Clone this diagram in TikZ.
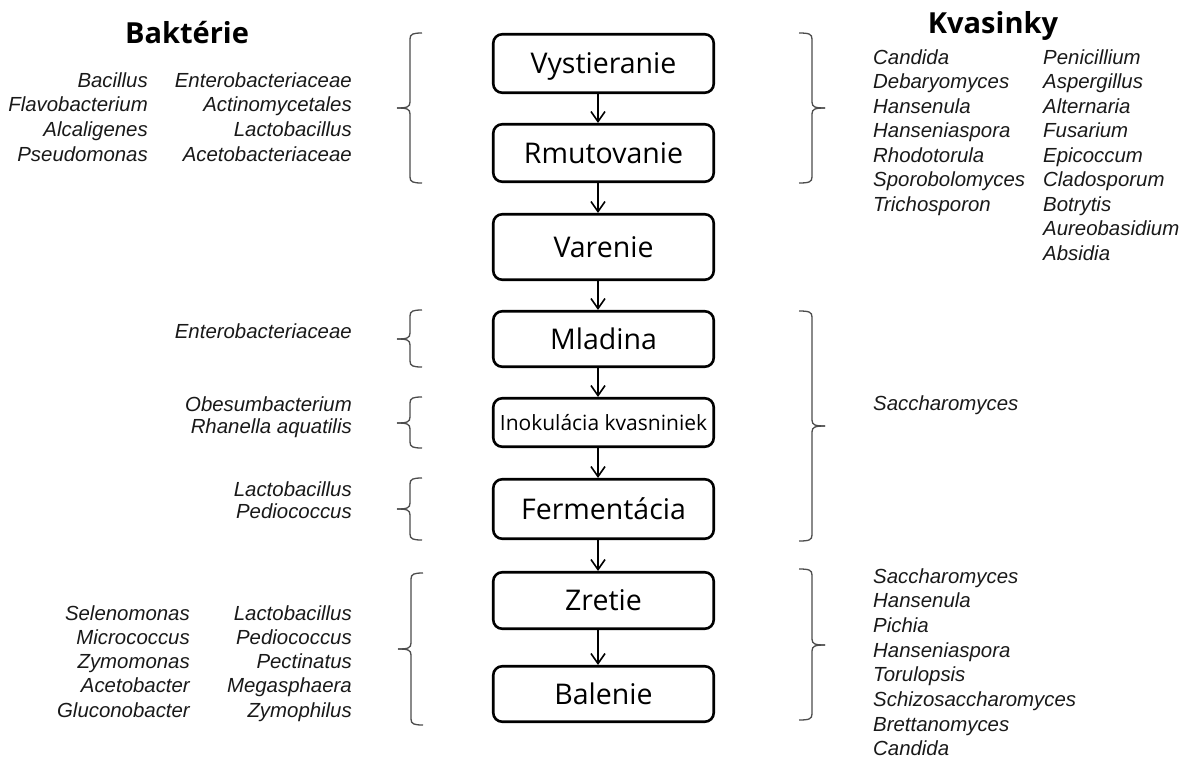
\documentclass[tikz,border=0pt]{standalone}
\usepackage{fontspec}
\setmainfont{Open Sans}
\newfontfamily\arialf{Liberation Sans}
\usetikzlibrary{arrows.meta}
\tikzset{
  stepbox/.style={draw, line width=2.6pt, rounded corners=9pt, minimum width=220.5pt, inner sep=0pt, text height=20pt, text depth=0pt, font=\fontsize{28.5}{30}\selectfont},
  arr/.style={line width=1.1pt, -{Straight Barb[length=10pt, width=14pt, line width=1.6pt]}},
  brc/.style={line width=1.3pt, draw=black!70},
  sp/.style={inner sep=0pt, text=black!90, font=\arialf\itshape\fontsize{20.4}{24}\selectfont},
  ttl/.style={inner sep=0pt, font=\bfseries\fontsize{29}{30}\selectfont}
}
\newcommand{\LBr}[4]{%
  \draw[brc] (#1+12,#2) .. controls (#1+3,#2) and (#1,#2+1) .. (#1,#2+6) -- (#1,#4-6) .. controls (#1,#4-1) and (#1-3,#4) .. (#1-13,#4);
  \draw[brc] (#1-13,#4) .. controls (#1-3,#4) and (#1,#4+1) .. (#1,#4+6) -- (#1,#3-6) .. controls (#1,#3-1) and (#1+3,#3) .. (#1+12,#3);}
\newcommand{\RBr}[4]{%
  \draw[brc] (#1-13,#2) .. controls (#1-3,#2) and (#1,#2+1) .. (#1,#2+6) -- (#1,#4-6) .. controls (#1,#4-1) and (#1+3,#4) .. (#1+13,#4);
  \draw[brc] (#1+13,#4) .. controls (#1+3,#4) and (#1,#4+1) .. (#1,#4+6) -- (#1,#3-6) .. controls (#1,#3-1) and (#1-3,#3) .. (#1-13,#3);}
\begin{document}
\begin{tikzpicture}[x=1pt,y=-1pt]
\useasboundingbox (0,0) rectangle (1192,758);
% process boxes
\node[stepbox, minimum height=58.5pt] (b1) at (603.5,63.5) {Vystieranie};
\node[stepbox, minimum height=57.5pt] (b2) at (603.5,153) {Rmutovanie};
\node[stepbox, minimum height=65.5pt] (b3) at (603.5,247) {Varenie};
\node[stepbox, minimum height=55.5pt] (b4) at (603.5,339) {Mladina};
\node[stepbox, minimum height=48.5pt, text height=15pt, font=\fontsize{21}{24}\selectfont] (b5) at (603.5,422.5) {Inokulácia kvasniniek};
\node[stepbox, minimum height=59.5pt] (b6) at (603.5,509) {Fermentácia};
\node[stepbox, minimum height=56.5pt] (b7) at (603.5,600.5) {Zretie};
\node[stepbox, minimum height=55.5pt] (b8) at (603.5,694) {Balenie};
\foreach \a/\b in {b1/b2,b2/b3,b3/b4,b4/b5,b5/b6,b6/b7,b7/b8}
  \draw[arr] (\a.south -| 598,0) -- (\b.north -| 598,0);
% titles
\node[ttl, anchor=base] (tb) at (187,43) {Baktérie};
\node[ttl, anchor=base] (tk) at (993,33) {Kvasinky};
% braces left
\LBr{410}{33}{183}{108}
\LBr{410}{310}{367}{339}
\LBr{410}{397}{448}{423}
\LBr{410}{478}{540}{509}
\LBr{411}{573}{725}{649}
% braces right
\RBr{812}{33}{183}{108}
\RBr{812}{311}{541}{426}
\RBr{812}{569}{720}{645}
% bacteria lists
\foreach \t [count=\i] in {Bacillus,Flavobacterium,Alcaligenes,Pseudomonas}
  \node[sp, anchor=base east] (ba\i) at (148,{87+24.7*(\i-1)}) {\t};
\foreach \t [count=\i] in {Enterobacteriaceae,Actinomycetales,Lactobacillus,Acetobacteriaceae}
  \node[sp, anchor=base east] (bb\i) at (352,{87+24.7*(\i-1)}) {\t};
\node[sp, anchor=base east] (bc1) at (352,338) {Enterobacteriaceae};
\node[sp, anchor=base east] (bd1) at (352,411) {Obesumbacterium};
\node[sp, anchor=base east] (bd2) at (352,433) {Rhanella aquatilis};
\node[sp, anchor=base east] (be1) at (352,496) {Lactobacillus};
\node[sp, anchor=base east] (be2) at (352,518) {Pediococcus};
\foreach \t [count=\i] in {Selenomonas,Micrococcus,Zymomonas,Acetobacter,Gluconobacter}
  \node[sp, anchor=base east] (bf\i) at (190,{620+24.3*(\i-1)}) {\t};
\foreach \t [count=\i] in {Lactobacillus,Pediococcus,Pectinatus,Megasphaera,Zymophilus}
  \node[sp, anchor=base east] (bg\i) at (352,{620+24.3*(\i-1)}) {\t};
% yeast lists
\foreach \t [count=\i] in {Candida,Debaryomyces,Hansenula,Hanseniaspora,Rhodotorula,Sporobolomyces,Trichosporon}
  \node[sp, anchor=base west] (ka\i) at (873,{64+24.5*(\i-1)}) {\t};
\foreach \t [count=\i] in {Penicillium,Aspergillus,Alternaria,Fusarium,Epicoccum,Cladosporum,Botrytis,Aureobasidium,Absidia}
  \node[sp, anchor=base west] (kb\i) at (1043,{64+24.5*(\i-1)}) {\t};
\node[sp, anchor=base west] (kc1) at (873,410) {Saccharomyces};
\foreach \t [count=\i] in {Saccharomyces,Hansenula,Pichia,Hanseniaspora,Torulopsis,Schizosaccharomyces,Brettanomyces,Candida}
  \node[sp, anchor=base west] (kd\i) at (873,{583+24.7*(\i-1)}) {\t};
\end{tikzpicture}
\end{document}
